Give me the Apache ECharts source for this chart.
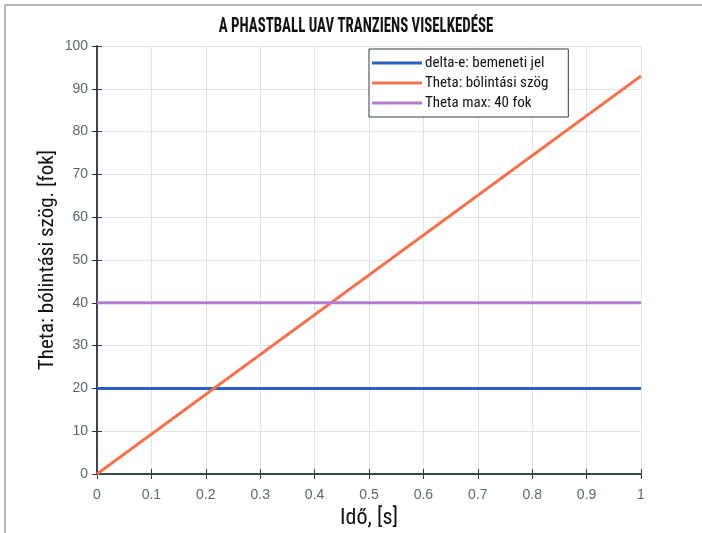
<!DOCTYPE html>
<html>
<head>
<meta charset="utf-8">
<script src="https://cdn.jsdelivr.net/npm/echarts@6/dist/echarts.min.js"></script>
<style>
  html, body { margin: 0; padding: 0; background: #fff; }
  #chart { width: 702px; height: 533px; }
</style>
</head>
<body>
<div id="chart"></div>
<script>
// time axis (s) and the three signals
const time = [0, 1]
const deltaE = [20, 20]
const theta = [0, 93]
const thetaMax = [40, 40]
const seriesNames = ['delta-e: bemeneti jel', 'Theta: bólintási szög', 'Theta max: 40 fok']

const condensed = '"Roboto Condensed", "DejaVu Sans Condensed", sans-serif'
const tickFont = '"Liberation Sans", Arial, sans-serif'
const tickColor = '#596873'
const axisColor = '#2f3b44'
const gridColor = '#dde5ec'

const pairs = (ys) => time.map((t, i) => [t, ys[i]])

const chart = echarts.init(document.getElementById('chart'))

const boxAxis = {
  min: 0,
  axisLine: { show: true, lineStyle: { color: axisColor, width: 1.5 } },
  axisTick: { show: true, inside: true, length: 5, lineStyle: { color: axisColor } },
  axisLabel: { show: false },
  splitLine: { show: false }
}

chart.setOption({
  animation: false,
  graphic: [
    {
      // frame of the original figure
      type: 'polyline',
      shape: { points: [[5, 540], [5, 5], [710, 5]] },
      style: { stroke: '#b8b8b8', lineWidth: 2, fill: null }
    },
    {
      // title, squeezed to look like the narrow font of the original
      type: 'text',
      x: 356, y: 26.5,
      scaleX: 0.745,
      style: {
        text: 'A PHASTBALL UAV TRANZIENS VISELKEDÉSE',
        x: 0, y: 0, align: 'center', verticalAlign: 'middle',
        font: 'bold 20px ' + condensed, fill: '#111'
      }
    }
  ],
  legend: {
    orient: 'vertical',
    left: 369,
    top: 49,
    data: seriesNames,
    icon: 'rect',
    itemWidth: 50,
    itemHeight: 3,
    itemGap: 0,
    padding: [4, 20, 4, 3],
    borderColor: '#2f3b44',
    borderWidth: 1,
    backgroundColor: '#fff',
    textStyle: { fontFamily: condensed, fontSize: 15, color: '#111', lineHeight: 20, padding: [0, 0, 0, -2] }
  },
  grid: { left: 97, right: 61, top: 46, bottom: 59, outerBoundsMode: 'none' },
  xAxis: [{
    type: 'value',
    min: 0, max: 1, interval: 0.1,
    name: 'Idő, [s]',
    nameLocation: 'middle',
    nameGap: 33,
    nameTextStyle: { fontFamily: condensed, fontSize: 22, color: '#111' },
    axisLine: { show: true, lineStyle: { color: axisColor, width: 1.5 } },
    axisTick: { show: true, inside: true, length: 5, lineStyle: { color: axisColor } },
    axisLabel: {
      margin: 14, color: tickColor, fontFamily: tickFont, fontSize: 14,
      formatter: (v) => String(Math.round(v * 10) / 10)
    },
    splitLine: { show: true, lineStyle: { color: gridColor, width: 1 } }
  }, Object.assign({}, boxAxis, { type: 'value', position: 'top', max: 1, interval: 0.1 })],
  yAxis: [{
    type: 'value',
    min: 0, max: 100, interval: 10,
    name: 'Theta: bólintási szög. [fok]',
    nameLocation: 'middle',
    nameGap: 39,
    nameMoveOverlap: false,
    nameTextStyle: { fontFamily: condensed, fontSize: 21, color: '#111' },
    axisLine: { show: true, lineStyle: { color: axisColor, width: 1.5 } },
    axisTick: { show: true, inside: true, length: 5, lineStyle: { color: axisColor } },
    axisLabel: { margin: 9, color: tickColor, fontFamily: tickFont, fontSize: 14 },
    splitLine: { show: true, lineStyle: { color: gridColor, width: 1 } }
  }, Object.assign({}, boxAxis, { type: 'value', position: 'right', max: 100, interval: 10 })],
  series: [
    {
      name: seriesNames[0], type: 'line', data: pairs(deltaE), showSymbol: false,
      lineStyle: { color: '#2660c4', width: 3 }, itemStyle: { color: '#2660c4' }
    },
    {
      name: seriesNames[1], type: 'line', data: pairs(theta), showSymbol: false,
      lineStyle: { color: '#f2734f', width: 3 }, itemStyle: { color: '#f2734f' }
    },
    {
      name: seriesNames[2], type: 'line', data: pairs(thetaMax), showSymbol: false,
      lineStyle: { color: '#b07dd0', width: 3 }, itemStyle: { color: '#b07dd0' }
    }
  ]
})
</script>
</body>
</html>
